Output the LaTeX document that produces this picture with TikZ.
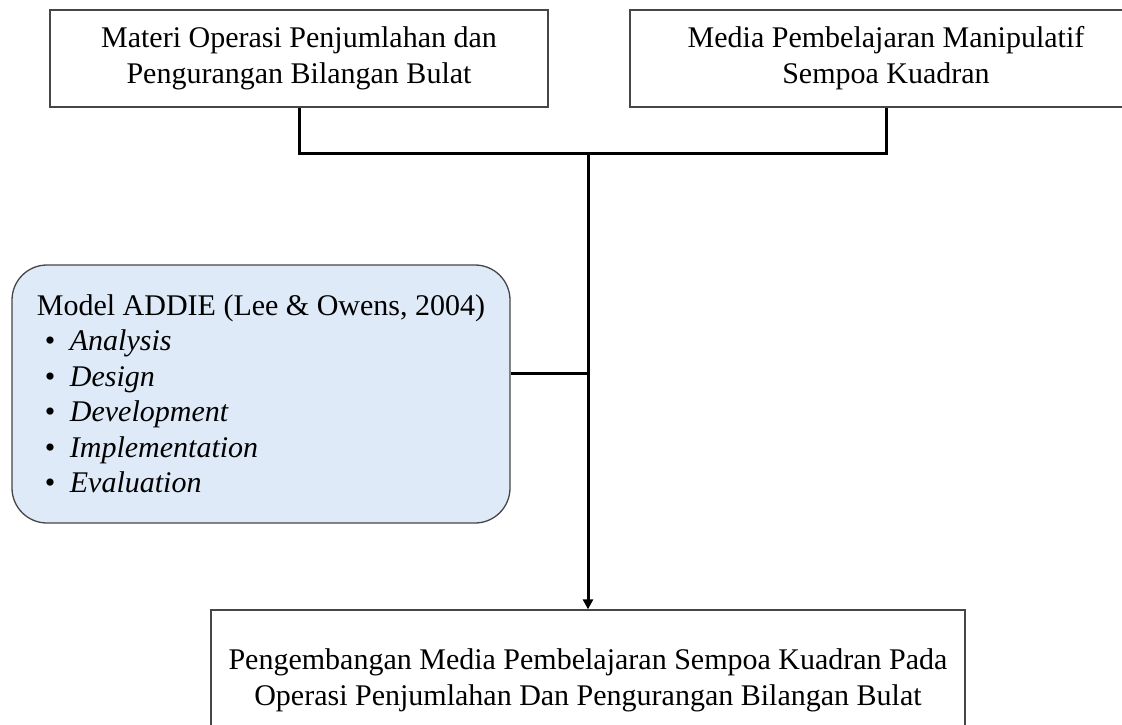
\documentclass[tikz,border=0pt]{standalone}
\usepackage{fontspec}
\setmainfont{Liberation Serif}
\usepackage{tikz}
\usetikzlibrary{positioning,arrows.meta}
\definecolor{bleuclair}{RGB}{222,234,247}
\definecolor{grisb}{RGB}{70,70,70}
\newcommand{\puce}[1]{\hspace*{8pt}\makebox[25pt][l]{\textbullet}\textit{#1}}

\begin{document}
\begin{tikzpicture}[x=1pt, y=-1pt,
  boite/.style 2 args={rectangle, draw=grisb, line width=1.3pt, fill=white,
                       minimum width=#1, minimum height=#2, align=center, inner sep=0pt,
                       font=\fontsize{30}{36}\selectfont},
  lien/.style={line width=3pt, draw=black}]

\useasboundingbox (0,0) rectangle (1122,725);
\clip (0,0) rectangle (1122,725);

% ── les deux entrées ──
\node[boite={498pt}{97pt}] (materi) at (299, 58.5)
  {Materi Operasi Penjumlahan dan\\ Pengurangan Bilangan Bulat};
\node[boite={512pt}{97pt}] (media) at (886, 58.5)
  {Media Pembelajaran Manipulatif\\ Sempoa Kuadran};

% ── le modèle ──
\node[boite={498pt}{258pt}, rounded corners=35pt, fill=bleuclair, align=left,
      font=\fontsize{30}{35.5}\selectfont] (addie) at (261, 394)
  {Model ADDIE (Lee \& Owens, 2004)\\
   \puce{Analysis}\\ \puce{Design}\\ \puce{Development}\\ \puce{Implementation}\\ \puce{Evaluation}};

% ── le produit ──
\node[boite={754pt}{140pt}] (hasil) at (588, 680)
  {Pengembangan Media Pembelajaran Sempoa Kuadran Pada\\ Operasi Penjumlahan Dan Pengurangan Bilangan Bulat};

% ── liaisons ──
\coordinate (jonction) at (588, 153);
\coordinate (sortie) at ([yshift=21pt]addie.east);
\draw[lien] (materi.south) |- (jonction) -| (media.south);
\draw[lien] (sortie) -- (sortie -| jonction);
\draw[lien, -{Triangle[length=10pt, width=10pt]}] (jonction) -- (hasil.north);

\end{tikzpicture}
\end{document}
